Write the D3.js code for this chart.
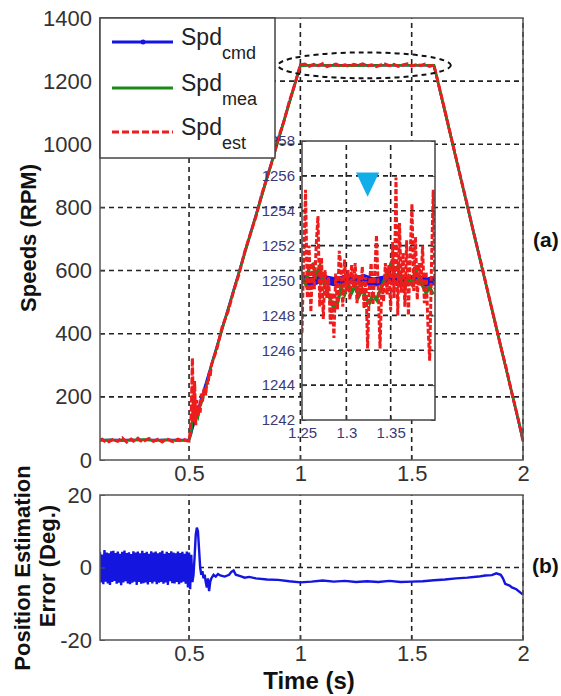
<!DOCTYPE html>
<html>
<head>
<meta charset="utf-8">
<script src="https://cdn.jsdelivr.net/npm/d3@7"></script>
<style>
  body { margin: 0; background: #fff; }
  svg { display: block; font-family: "Liberation Sans", Arial, sans-serif; }
</style>
</head>
<body>
<div id="chart"></div>
<script>
// ---- data ----
// speed command (breakpoints)
const cmdT = [0.1, 0.5, 1.0, 1.6, 2.0];
const cmdV = [63, 63, 1250, 1250, 63];

// measured speed
const meaT = [0.1, 0.15, 0.2, 0.25, 0.3, 0.35, 0.4, 0.45, 0.5, 0.51, 0.52, 0.53, 0.54, 0.55, 0.56, 0.58, 0.6,
  0.7, 0.8, 0.9, 1.0, 1.05, 1.2, 1.4, 1.6, 1.7, 1.8, 1.9, 2.0];
const meaV = [62, 64, 61, 63, 65, 62, 64, 61, 63, 85, 205, 150, 135, 170, 190, 240, 298,
  535, 772, 1010, 1248, 1251, 1249, 1250, 1250, 952, 655, 360, 65];

// estimated speed: flat part (0.1 .. 0.5, step 0.01)
const estFlat = [63, 66, 60, 64, 58, 62, 67, 61, 59, 65, 70, 63, 57, 62, 66, 60, 64, 69, 62, 58, 61,
  65, 68, 63, 59, 62, 66, 61, 57, 63, 67, 64, 60, 58, 62, 66, 63, 59, 64, 61, 60];
// estimated speed: rest of the run
const estT = [0.505, 0.51, 0.515, 0.52, 0.525, 0.53, 0.535, 0.54, 0.545, 0.55, 0.555, 0.56, 0.565, 0.57, 0.575,
  0.58, 0.585, 0.59, 0.595, 0.6, 0.625, 0.65, 0.675, 0.7, 0.725, 0.75, 0.775, 0.8, 0.825, 0.85, 0.875,
  0.9, 0.925, 0.95, 0.975, 1.0, 1.02, 1.04, 1.06, 1.08, 1.1, 1.12, 1.14, 1.16, 1.18, 1.2, 1.22, 1.24,
  1.26, 1.28, 1.3, 1.32, 1.34, 1.36, 1.38, 1.4, 1.42, 1.44, 1.46, 1.48, 1.5, 1.52, 1.54, 1.56, 1.58, 1.6,
  1.625, 1.65, 1.675, 1.7, 1.725, 1.75, 1.775, 1.8, 1.825, 1.85, 1.875, 1.9, 1.925, 1.95, 1.975, 2.0];
const estV = [90, 150, 323, 120, 250, 110, 190, 140, 175, 150, 210, 185, 215, 230, 205,
  250, 240, 270, 265, 300, 352, 425, 470, 535, 590, 660, 716, 770, 838, 895, 950,
  1018, 1070, 1135, 1190, 1252, 1254, 1247, 1253, 1249, 1255, 1246, 1251, 1254, 1248, 1252, 1247, 1253,
  1250, 1255, 1248, 1252, 1246, 1251, 1254, 1249, 1253, 1247, 1251, 1255, 1248, 1252, 1250, 1254, 1247, 1251,
  1178, 1105, 1030, 955, 880, 808, 730, 658, 585, 508, 435, 360, 290, 212, 140, 60];

// inset (zoom 1.25 .. 1.40 s)
const insetEst = [1247.0, 1251.5, 1255.2, 1249.0, 1252.0, 1248.2, 1251.0, 1249.5, 1252.0, 1253.7,
  1248.5, 1251.3, 1247.8, 1250.6, 1249.0, 1250.2, 1247.5, 1249.3, 1246.7, 1250.4,
  1248.3, 1251.7, 1250.8, 1248.5, 1251.2, 1249.4, 1250.6, 1248.9, 1250.9, 1249.6,
  1251.0, 1248.7, 1250.3, 1249.2, 1250.8, 1248.4, 1250.2, 1246.1, 1249.8, 1251.0,
  1248.6, 1250.4, 1252.6, 1249.5, 1246.1, 1249.8, 1248.8, 1251.0, 1249.2, 1250.9,
  1248.3, 1252.2, 1249.0, 1255.9, 1248.0, 1253.3, 1249.3, 1251.6, 1248.5, 1252.3,
  1248.0, 1251.4, 1254.4, 1249.4, 1252.5, 1248.9, 1251.0, 1249.7, 1252.0, 1248.7,
  1250.5, 1247.5, 1245.4, 1250.8, 1255.2, 1249.5];
const insetMea = [1250.2, 1249.8, 1250.7, 1250.9, 1250.3, 1250.8, 1249.9, 1249.4, 1248.9, 1248.4,
  1248.7, 1249.6, 1249.2, 1249.8, 1249.3, 1249.7, 1249.1, 1249.5, 1249.0, 1248.7,
  1249.2, 1248.9, 1249.4, 1249.9, 1250.4, 1250.9, 1250.5, 1250.8, 1249.9, 1249.6,
  1250.2, 1249.8, 1250.6, 1250.1, 1249.7, 1249.3, 1249.6, 1249.2];
const insetCmd = [1250.1, 1249.9, 1250.1, 1250.0, 1249.9, 1250.1, 1250.0, 1250.1, 1249.9, 1250.0,
  1250.1, 1249.9, 1250.0, 1250.1, 1249.9, 1250.0];

// position estimation error: noisy part (0.1 .. 0.515, step 0.005)
const errNoise = [4.2, -4.1, 3.6, -4.6, 4.8, -3.9, 4.1, -4.4, 3.9, -4.8, 4.5, -4.0, 4.6, -3.7, 4.0, -4.5,
  4.4, -4.2, 3.8, -4.9, 4.3, -4.1, 4.7, -3.8, 4.0, -4.4, 4.2, -4.6, 3.7, -4.2, 4.5, -3.9,
  4.1, -4.8, 4.4, -4.0, 3.9, -4.5, 4.6, -4.3, 4.0, -4.1, 4.3, -4.7, 3.8, -4.0, 4.5, -4.4,
  4.1, -3.9, 4.4, -4.6, 3.9, -4.2, 4.2, -4.0, 4.6, -4.5, 3.8, -4.1, 4.3, -4.8, 4.0, -3.8,
  4.5, -4.3, 4.1, -4.4, 3.9, -4.0, 4.4, -4.6, 4.0, -4.2, 4.3, -3.9, 3.8, -4.5, 4.4, -5.5, 4.1, -6.0, 3.5, -4.0];
const errT = [0.52, 0.525, 0.53, 0.535, 0.54, 0.545, 0.55, 0.555, 0.56, 0.565, 0.57, 0.575, 0.58, 0.585,
  0.59, 0.595, 0.6, 0.61, 0.62, 0.63, 0.64, 0.66, 0.68, 0.69, 0.7, 0.71, 0.73, 0.75, 0.77, 0.8, 0.85,
  0.9, 0.95, 1.0, 1.05, 1.1, 1.15, 1.2, 1.25, 1.3, 1.35, 1.4, 1.45, 1.5, 1.55, 1.6, 1.65, 1.7, 1.75,
  1.8, 1.83, 1.86, 1.88, 1.9, 1.91, 1.92, 1.94, 1.95, 1.97, 1.99, 2.0];
const errV = [-2, 3, 9, 11, 10, 5, 0, -2, -1, -3, -2, -4, -5.5, -3,
  -6.5, -4, -3, -2, -2.5, -1.8, -2.2, -2.5, -2.0, -1.2, -0.8, -2.0, -2.4, -2.8, -2.6, -3.0, -3.3,
  -3.4, -3.8, -4.1, -3.9, -3.6, -3.9, -3.7, -4.0, -3.8, -4.0, -3.7, -4.0, -3.9, -3.8, -3.5, -3.3, -3.0, -2.8,
  -2.5, -2.2, -2.1, -1.6, -2.0, -3.0, -4.5, -5.0, -5.5, -6.0, -7.0, -7.5];

// ticks
const speedTicks = [0, 200, 400, 600, 800, 1000, 1200, 1400];
const timeTicks = [0.5, 1, 1.5, 2];
const errTicks = [-20, 0, 20];
const insetXTicks = [1.25, 1.3, 1.35];
const insetYTicks = [1242, 1244, 1246, 1248, 1250, 1252, 1254, 1256, 1258];

// legend
const legendNames = ["cmd", "mea", "est"];
const legendColors = ["#1414e6", "#1a8a1a", "#ee1c1c"];

// annotations: ellipse around plateau, cyan marker in inset
const ellipseT = [0.9, 1.676];
const ellipseV = [1209, 1291];
const markerT = [1.311, 1.337, 1.324];
const markerV = [1256.2, 1256.2, 1254.8];

// ---- drawing ----
const W = 561, H = 696;
const svg = d3.select("#chart").append("svg").attr("width", W).attr("height", H);

const x = d3.scaleLinear().domain([0.1, 2]).range([100, 523]);
const y = d3.scaleLinear().domain([0, 1400]).range([460, 18]);
const yb = d3.scaleLinear().domain([-20, 20]).range([640, 495]);
const xi = d3.scaleLinear().domain([1.25, 1.4]).range([302, 435]);
const yi = d3.scaleLinear().domain([1242, 1258]).range([420, 141]);

const plain = d => String(d);   // no thousands separators, ascii minus

const defs = svg.append("defs");
defs.append("clipPath").attr("id", "clipTop").append("rect")
  .attr("x", x(0.1)).attr("y", y(1400)).attr("width", x(2) - x(0.1)).attr("height", y(0) - y(1400));
defs.append("clipPath").attr("id", "clipBot").append("rect")
  .attr("x", x(0.1)).attr("y", yb(20)).attr("width", x(2) - x(0.1)).attr("height", yb(-20) - yb(20));
defs.append("clipPath").attr("id", "clipIn").append("rect")
  .attr("x", xi(1.25)).attr("y", yi(1258)).attr("width", xi(1.4) - xi(1.25)).attr("height", yi(1242) - yi(1258));

const gridStyle = sel => sel.attr("stroke", "#222").attr("stroke-width", 1.6).attr("stroke-dasharray", "5,4");
const tickFont = sel => sel.attr("font-size", 22).attr("fill", "#333");

function zip(ts, vs) { return ts.map((t, i) => [t, vs[i]]); }

// ---------- top plot ----------
const gTop = svg.append("g");
gTop.append("rect").attr("x", x(0.1)).attr("y", y(1400)).attr("width", x(2) - x(0.1)).attr("height", y(0) - y(1400)).attr("fill", "#fff");

gTop.selectAll(".hg").data(speedTicks.filter(d => d > 0 && d < 1400)).join("line")
  .attr("x1", x(0.1)).attr("x2", x(2)).attr("y1", d => y(d)).attr("y2", d => y(d)).call(gridStyle);
gTop.selectAll(".vg").data(timeTicks).join("line")
  .attr("y1", y(0)).attr("y2", y(1400)).attr("x1", d => x(d)).attr("x2", d => x(d)).call(gridStyle);

const lineTop = d3.line().x(d => x(d[0])).y(d => y(d[1]));
const lines = gTop.append("g").attr("clip-path", "url(#clipTop)");
const estAll = estFlat.map((v, i) => [0.1 + i * 0.01, v]).concat(zip(estT, estV));
lines.append("path").datum(zip(cmdT, cmdV)).attr("d", lineTop)
  .attr("fill", "none").attr("stroke", legendColors[0]).attr("stroke-width", 2.5);
lines.append("path").datum(zip(meaT, meaV)).attr("d", lineTop)
  .attr("fill", "none").attr("stroke", legendColors[1]).attr("stroke-width", 2.5);
lines.append("path").datum(estAll).attr("d", lineTop)
  .attr("fill", "none").attr("stroke", legendColors[2]).attr("stroke-width", 3).attr("stroke-dasharray", "7,2");

gTop.append("rect").attr("x", x(0.1)).attr("y", y(1400)).attr("width", x(2) - x(0.1)).attr("height", y(0) - y(1400))
  .attr("fill", "none").attr("stroke", "#555").attr("stroke-width", 1.5);

const axL = gTop.append("g").attr("transform", `translate(${x(0.1)},0)`)
  .call(d3.axisLeft(y).tickValues(speedTicks).tickFormat(plain).tickSize(-5).tickPadding(8));
axL.select(".domain").remove();
axL.selectAll("line").attr("stroke", "#555");
axL.selectAll("text").call(tickFont);

const axB = gTop.append("g").attr("transform", `translate(0,${y(0)})`)
  .call(d3.axisBottom(x).tickValues(timeTicks).tickFormat(plain).tickSize(-5).tickPadding(5));
axB.select(".domain").remove();
axB.selectAll("line").attr("stroke", "#555");
axB.selectAll("text").call(tickFont);

// ---------- inset ----------
const inset = svg.append("g");
inset.append("rect").attr("x", xi(1.25)).attr("y", yi(1258)).attr("width", xi(1.4) - xi(1.25)).attr("height", yi(1242) - yi(1258))
  .attr("fill", "#fff");
inset.selectAll(".ihg").data(insetYTicks.filter(d => d > 1242 && d < 1258)).join("line")
  .attr("x1", xi(1.25)).attr("x2", xi(1.4)).attr("y1", d => yi(d)).attr("y2", d => yi(d)).call(gridStyle);
inset.selectAll(".ivg").data(insetXTicks.slice(1)).join("line")
  .attr("y1", yi(1242)).attr("y2", yi(1258)).attr("x1", d => xi(d)).attr("x2", d => xi(d)).call(gridStyle);

const lineIn = d3.line().x(d => xi(d[0])).y(d => yi(d[1]));
const il = inset.append("g").attr("clip-path", "url(#clipIn)");
il.append("path").datum(insetCmd.map((v, i) => [1.25 + i * 0.01, v])).attr("d", lineIn)
  .attr("fill", "none").attr("stroke", legendColors[0]).attr("stroke-width", 9);
il.append("path").datum(insetMea.map((v, i) => [1.25 + i * 0.004, v])).attr("d", lineIn)
  .attr("fill", "none").attr("stroke", legendColors[1]).attr("stroke-width", 3.5);
il.append("path").datum(insetEst.map((v, i) => [1.25 + i * 0.002, v])).attr("d", lineIn)
  .attr("fill", "none").attr("stroke", legendColors[2]).attr("stroke-width", 3).attr("stroke-dasharray", "5,2");

inset.append("rect").attr("x", xi(1.25)).attr("y", yi(1258)).attr("width", xi(1.4) - xi(1.25)).attr("height", yi(1242) - yi(1258))
  .attr("fill", "none").attr("stroke", "#444").attr("stroke-width", 1.5);

const iaL = inset.append("g").attr("transform", `translate(${xi(1.25)},0)`)
  .call(d3.axisLeft(yi).tickValues(insetYTicks).tickFormat(plain).tickSize(-4).tickPadding(7));
iaL.select(".domain").remove();
iaL.selectAll("line").attr("stroke", "#444");
iaL.selectAll("text").attr("font-size", 15).attr("fill", "#3a3a78");
const iaR = inset.append("g").attr("transform", `translate(${xi(1.4)},0)`)
  .call(d3.axisRight(yi).tickValues(insetYTicks).tickSize(-4).tickFormat(""));
iaR.select(".domain").remove();
iaR.selectAll("line").attr("stroke", "#444");
const iaB = inset.append("g").attr("transform", `translate(0,${yi(1242)})`)
  .call(d3.axisBottom(xi).tickValues(insetXTicks).tickFormat(plain).tickSize(-4).tickPadding(7));
iaB.select(".domain").remove();
iaB.selectAll("line").attr("stroke", "#444");
iaB.selectAll("text").attr("font-size", 15).attr("fill", "#3a3a78");

// cyan marker
inset.append("path")
  .datum(zip(markerT, markerV))
  .attr("d", d => "M" + d.map(p => [xi(p[0]), yi(p[1])].join(",")).join("L") + "Z")
  .attr("fill", "#12aeea");

// ---------- legend ----------
const leg = svg.append("g");
leg.append("rect").attr("x", 100).attr("y", 18).attr("width", 175).attr("height", 140)
  .attr("fill", "#fff").attr("stroke", "#444").attr("stroke-width", 1.5);
const rows = leg.selectAll(".row").data(legendNames).join("g")
  .attr("transform", (d, i) => `translate(0,${[42, 88, 132][i]})`);
rows.append("line").attr("x1", 112).attr("x2", 173).attr("y1", 0).attr("y2", 0)
  .attr("stroke", (d, i) => legendColors[i]).attr("stroke-width", 3)
  .attr("stroke-dasharray", (d, i) => i === 2 ? "7,3" : null);
rows.filter((d, i) => i === 0).append("circle").attr("cx", 143).attr("cy", 0).attr("r", 2.5).attr("fill", legendColors[0]);
const lt = rows.append("text").attr("x", 181).attr("y", 3).attr("font-size", 23).attr("fill", "#222").text("Spd");
lt.append("tspan").attr("dy", 14).attr("font-size", 18).text(d => d);

// dotted ellipse around the plateau
svg.append("ellipse")
  .attr("cx", (x(ellipseT[0]) + x(ellipseT[1])) / 2).attr("cy", (y(ellipseV[0]) + y(ellipseV[1])) / 2)
  .attr("rx", (x(ellipseT[1]) - x(ellipseT[0])) / 2).attr("ry", (y(ellipseV[0]) - y(ellipseV[1])) / 2)
  .attr("fill", "none").attr("stroke", "#111").attr("stroke-width", 2).attr("stroke-dasharray", "5,4");

// ---------- bottom plot ----------
const bot = svg.append("g");
bot.append("line").attr("x1", x(0.1)).attr("x2", x(2)).attr("y1", yb(0)).attr("y2", yb(0)).call(gridStyle);
bot.selectAll(".bvg").data(timeTicks).join("line")
  .attr("y1", yb(-20)).attr("y2", yb(20)).attr("x1", d => x(d)).attr("x2", d => x(d)).call(gridStyle);

const lineBot = d3.line().x(d => x(d[0])).y(d => yb(d[1]));
const errAll = errNoise.map((v, i) => [0.1 + i * 0.005, v]).concat(zip(errT, errV));
bot.append("g").attr("clip-path", "url(#clipBot)").append("path").datum(errAll).attr("d", lineBot)
  .attr("fill", "none").attr("stroke", "#1515e0").attr("stroke-width", 2.4);

bot.append("rect").attr("x", x(0.1)).attr("y", yb(20)).attr("width", x(2) - x(0.1)).attr("height", yb(-20) - yb(20))
  .attr("fill", "none").attr("stroke", "#555").attr("stroke-width", 1.5);

const bL = bot.append("g").attr("transform", `translate(${x(0.1)},0)`)
  .call(d3.axisLeft(yb).tickValues(errTicks).tickFormat(plain).tickSize(-5).tickPadding(8));
bL.select(".domain").remove();
bL.selectAll("line").attr("stroke", "#555");
bL.selectAll("text").call(tickFont);
const bB = bot.append("g").attr("transform", `translate(0,${yb(-20)})`)
  .call(d3.axisBottom(x).tickValues(timeTicks).tickFormat(plain).tickSize(-5).tickPadding(5));
bB.select(".domain").remove();
bB.selectAll("line").attr("stroke", "#555");
bB.selectAll("text").call(tickFont);

// ---------- labels ----------
const lab = svg.append("g").attr("font-weight", "bold").attr("fill", "#111");
lab.append("text").attr("transform", "translate(36,238) rotate(-90)").attr("text-anchor", "middle")
  .attr("font-size", 22).text("Speeds (RPM)");
lab.append("text").attr("transform", "translate(30,568) rotate(-90)").attr("text-anchor", "middle")
  .attr("font-size", 22).text("Position Estimation");
lab.append("text").attr("transform", "translate(55,566) rotate(-90)").attr("text-anchor", "middle")
  .attr("font-size", 22).text("Error (Deg.)");
lab.append("text").attr("x", 309).attr("y", 689).attr("text-anchor", "middle").attr("font-size", 24).text("Time (s)");
lab.append("text").attr("x", 533).attr("y", 247).attr("font-size", 21).text("(a)");
lab.append("text").attr("x", 532).attr("y", 573).attr("font-size", 21).text("(b)");
</script>
</body>
</html>
